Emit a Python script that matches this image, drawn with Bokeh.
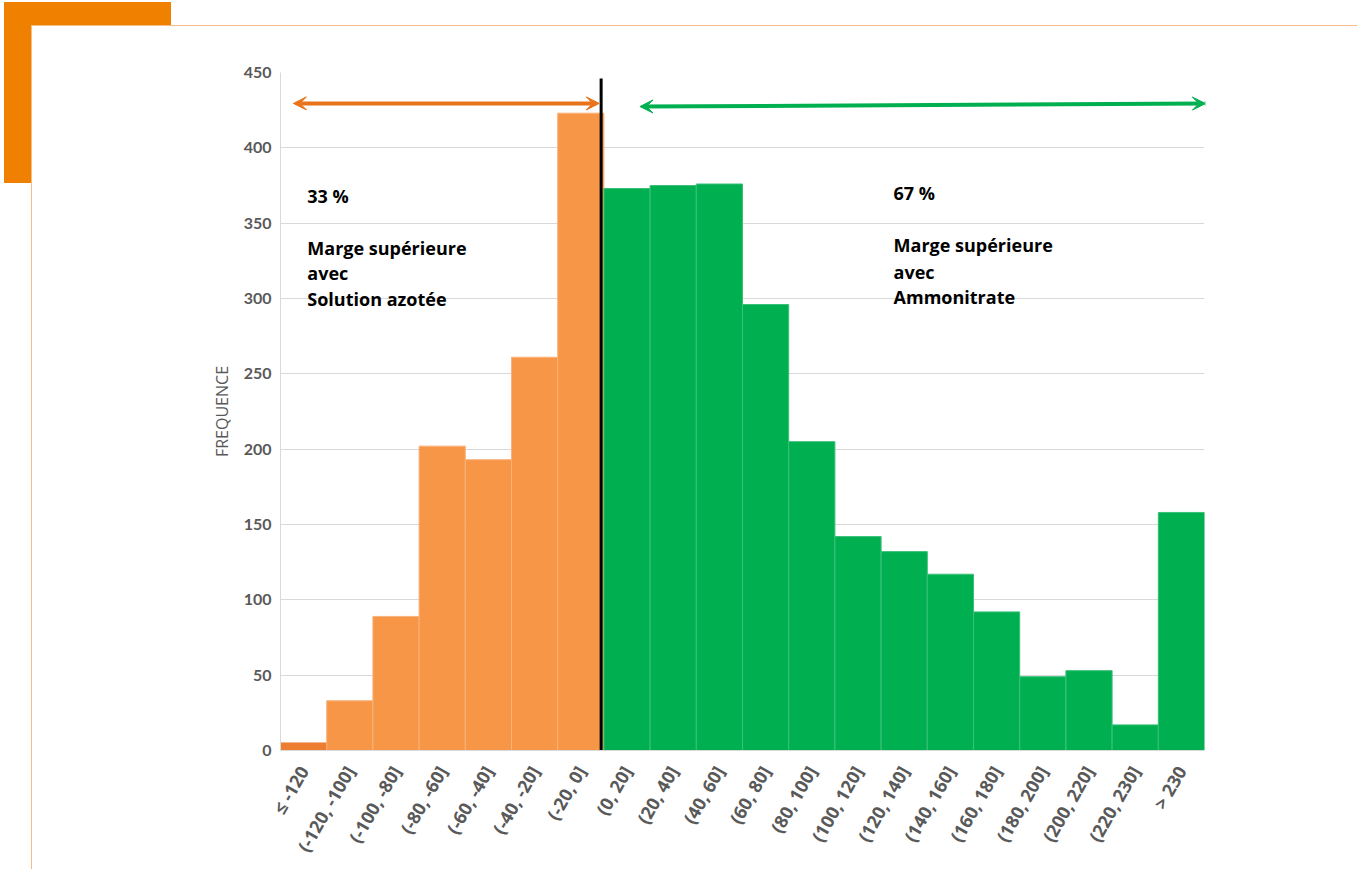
import math
from bokeh.plotting import figure
from bokeh.models import (ColumnDataSource, FixedTicker, Arrow, VeeHead, Label,
                          Range1d, InlineStyleSheet)
from bokeh.embed import file_html
from bokeh.resources import INLINE

categories = ["≤ -120", "(-120, -100]", "(-100, -80]", "(-80, -60]", "(-60, -40]",
              "(-40, -20]", "(-20, 0]", "(0, 20]", "(20, 40]", "(40, 60]", "(60, 80]",
              "(80, 100]", "(100, 120]", "(120, 140]", "(140, 160]", "(160, 180]",
              "(180, 200]", "(200, 220]", "(220, 230]", "> 230"]
frequencies = [5, 33, 89, 202, 193, 261, 423, 373, 375, 376, 296,
               205, 142, 132, 117, 92, 49, 53, 17, 158]
group = ["sol0"] + ["sol"] * 6 + ["amm"] * 13
y_ticks = [0, 50, 100, 150, 200, 250, 300, 350, 400, 450]

colour_map = {"sol0": "#ED7D31", "sol": "#F79646", "amm": "#00B050"}
edge_map = {"sol0": "#ED7D31", "sol": "#F9B27A", "amm": "#3BC07A"}

xs = [i + 0.5 for i in range(len(categories))]
src = ColumnDataSource(dict(x=xs, top=frequencies,
                            color=[colour_map[g] for g in group],
                            edge=[edge_map[g] for g in group]))

# page decoration: orange corner block + light-orange panel border (CSS background)
deco_css = InlineStyleSheet(css="""
:host {
  background:
    linear-gradient(#ffffff, #ffffff) 32px 26px / 3000px 3000px no-repeat,
    linear-gradient(#F6BC88, #F6BC88) 31px 25px / 3000px 3000px no-repeat,
    linear-gradient(#F08000, #F08000) 4px 2px / 167px 181px no-repeat,
    #ffffff;
}
""")

p = figure(width=1357, height=869, output_backend="svg", toolbar_location=None,
           x_range=Range1d(0, len(categories)), y_range=Range1d(0, 450),
           min_border_left=280, min_border_right=153, min_border_top=72,
           min_border_bottom=119, outline_line_color=None,
           background_fill_color="white", border_fill_color=None,
           stylesheets=[deco_css])

p.vbar(x="x", top="top", bottom=0, width=1.0, source=src,
       fill_color="color", line_color="edge", line_width=1)

# axes
p.xaxis.ticker = FixedTicker(ticks=xs)
p.xaxis.major_label_overrides = {x: c for x, c in zip(xs, categories)}
p.xaxis.major_label_orientation = math.pi / 3
p.yaxis.ticker = FixedTicker(ticks=y_ticks)
for ax in (p.xaxis, p.yaxis):
    ax.axis_line_color = "#D9D9D9"
    ax.major_tick_line_color = None
    ax.minor_tick_line_color = None
    ax.major_label_text_font_style = "bold"
    ax.major_label_text_color = "#595959"
p.xaxis.major_label_text_font = "Open Sans"
p.xaxis.major_label_text_font_size = "18px"
p.yaxis.major_label_text_font = "Lato"
p.yaxis.major_label_text_font_size = "16px"
p.xaxis.major_label_standoff = 11
p.yaxis.major_label_standoff = 3
p.yaxis.axis_label = "FREQUENCE"
p.yaxis.axis_label_text_font = "Open Sans"
p.yaxis.axis_label_text_font_style = "normal"
p.yaxis.axis_label_text_font_size = "16px"
p.yaxis.axis_label_text_color = "#595959"
p.yaxis.axis_label_standoff = 8
p.xgrid.grid_line_color = None
p.ygrid.grid_line_color = "#D9D9D9"
p.ygrid.grid_line_width = 1

# vertical divider
p.segment(x0=[6.94], y0=[-1.5], x1=[6.94], y1=[446], line_color="black", line_width=3)

# arrows
orange = "#E8731A"
green = "#00B050"
p.add_layout(Arrow(start=VeeHead(size=13, fill_color=orange, line_color=orange),
                   end=VeeHead(size=13, fill_color=orange, line_color=orange),
                   x_start=0.28, y_start=429.5, x_end=6.9, y_end=429.5,
                   line_color=orange, line_width=4))
p.add_layout(Arrow(start=VeeHead(size=13, fill_color=green, line_color=green),
                   end=VeeHead(size=13, fill_color=green, line_color=green),
                   x_start=7.78, y_start=427.4, x_end=20.02, y_end=429.4,
                   line_color=green, line_width=4))

# texts
left_texts = ["33 %", "Marge supérieure", "avec", "Solution azotée"]
left_y = [367.7, 333.2, 316.6, 300.0]
right_texts = ["67 %", "Marge supérieure", "avec", "Ammonitrate"]
right_y = [369.7, 335.2, 317.9, 300.7]
for t, y in zip(left_texts, left_y):
    p.add_layout(Label(x=0.58, y=y, text=t, text_font="Open Sans", text_font_style="bold",
                       text_font_size="18px", text_color="black", text_baseline="middle"))
for t, y in zip(right_texts, right_y):
    p.add_layout(Label(x=13.27, y=y, text=t, text_font="Open Sans", text_font_style="bold",
                       text_font_size="18px", text_color="black", text_baseline="middle"))

open("out.html", "w").write(file_html(p, INLINE))
